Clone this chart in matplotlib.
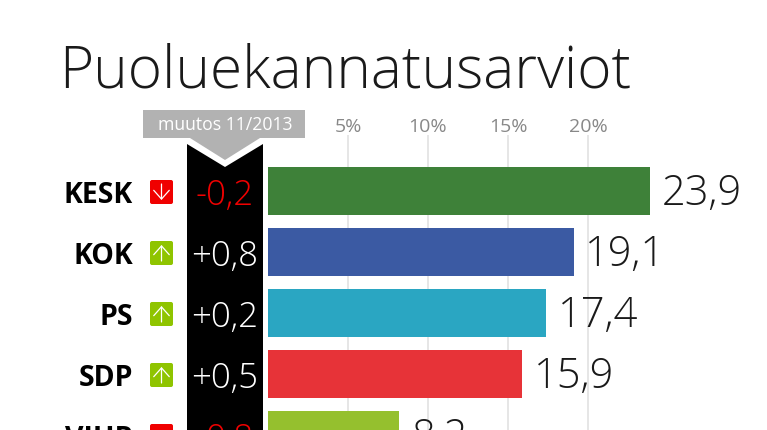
import matplotlib
matplotlib.use('Agg')
import matplotlib.pyplot as plt
from matplotlib.patches import Polygon, FancyBboxPatch

parties = ['KESK', 'KOK', 'PS', 'SDP', 'VIHR']
support = [23.9, 19.1, 17.4, 15.9, 8.2]
changes = [-0.2, 0.8, 0.2, 0.5, -0.8]
bar_colors = ['#3e8139', '#3b5aa3', '#2aa6c2', '#e73338', '#95c02e']
grid_ticks = [5, 10, 15, 20]
grid_labels = ['5%', '10%', '15%', '20%']
title = 'Puoluekannatusarviot'
change_title = 'muutos 11/2013'

W, H = 767, 431
plt.rcParams['font.family'] = ['Open Sans', 'DejaVu Sans']


def fi(v):
    return f'{v:.1f}'.replace('.', ',')


def row_y(i):
    return 191 + 61 * i


fig = plt.figure(figsize=(W / 100, H / 100), dpi=100, facecolor='white')

# pixel layer for title, tag, black column and badges
bg = fig.add_axes([0, 0, 1, 1])
bg.set_xlim(0, W)
bg.set_ylim(H, 0)
bg.axis('off')

bg.text(59, 88, title, fontsize=42.2, fontweight='light', color='#1a1a1a', ha='left', va='baseline')

# black column with notch
bg.add_patch(Polygon([(187, 145), (225, 168), (263, 145), (263, H), (187, H)], fc='black', ec='none'))
# grey tag
bg.add_patch(Polygon([(143, 111), (305, 111), (305, 139), (260, 139), (225, 161), (190, 139), (143, 139)],
                     fc='#b2b2b2', ec='none'))
bg.text(225.5, 125, change_title, fontsize=12.7, color='white', ha='center', va='center')

for i, (name, ch) in enumerate(zip(parties, changes)):
    y = row_y(i)
    bg.text(133, y + 5, name, fontsize=20.5, fontweight='bold', color='black', ha='right', va='center')
    col = '#8fc400' if ch > 0 else '#f00000'
    bg.add_patch(FancyBboxPatch((150, y - 10), 23, 24, boxstyle='round,pad=0,rounding_size=2', fc=col, ec='none'))
    if ch > 0:
        bg.annotate('', xy=(161.5, y - 6), xytext=(161.5, y + 10),
                    arrowprops=dict(arrowstyle='->,head_length=0.45,head_width=0.4', color='white', lw=0.9,
                                    mutation_scale=14, shrinkA=0, shrinkB=0))
    else:
        bg.annotate('', xy=(161.5, y + 10), xytext=(161.5, y - 6),
                    arrowprops=dict(arrowstyle='->,head_length=0.45,head_width=0.4', color='white', lw=0.9,
                                    mutation_scale=14, shrinkA=0, shrinkB=0))
    txt = ('+' if ch > 0 else '-') + fi(abs(ch))
    bg.text(224.5, y + 5, txt, fontsize=25, fontweight='light', color='white' if ch > 0 else '#f00000',
            ha='center', va='center')

# bars
ax = fig.add_axes([268 / W, 0, (W - 268) / W, (H - 136) / H])
ax.set_facecolor('none')
ax.set_xlim(0, (W - 268) / 16)
ax.set_ylim((431 - 192) / 61, (136 - 192) / 61)
ax.barh(range(len(parties)), support, height=48 / 61, color=bar_colors, zorder=3)
ax.set_yticks([])
ax.xaxis.tick_top()
ax.set_xticks(grid_ticks)
ax.set_xticklabels(grid_labels, fontsize=14, color='#888888')
ax.tick_params(axis='x', length=0, pad=0)
ax.grid(axis='x', color='#e2e2e2', lw=1.2, zorder=0)
ax.set_axisbelow(True)
for s in ax.spines.values():
    s.set_visible(False)

for i, v in enumerate(support):
    ax.annotate(fi(v), (v, i), xytext=(8.5, -1.5), textcoords='offset points', fontsize=30, fontweight='light',
                color='#1a1a1a', ha='left', va='center', annotation_clip=False)

fig.savefig('out.png', dpi=100, facecolor='white')
